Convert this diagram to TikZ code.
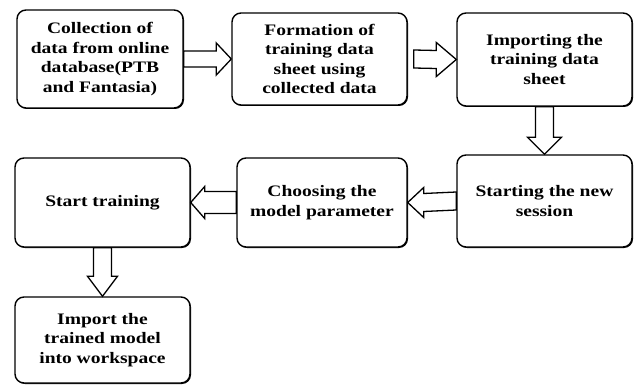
\documentclass[tikz,border=0pt]{standalone}
\usepackage{fontspec}
\setmainfont{Liberation Serif}[FakeStretch=1.22]
\usetikzlibrary{calc,shadows}
\begin{document}
\begin{tikzpicture}[x=1pt,y=1pt,
  box/.style={draw=black, line width=1.4pt, rounded corners=9pt, fill=white,
    align=center, font=\bfseries\fontsize{16}{19.5}\selectfont, inner sep=2pt,
    drop shadow={shadow xshift=1pt, shadow yshift=-1pt, opacity=1, fill=black}},
  blk/.style={draw=black, line width=1.3pt, fill=white, line join=miter}]
\useasboundingbox (0,0) rectangle (635,-385);
\node[box, minimum width=166pt, minimum height=98pt] (b1) at (100,-59)
  {Collection of\\data from online\\database(PTB\\and Fantasia)};
\node[box, minimum width=175pt, minimum height=92pt] (b2) at (319.5,-59)
  {Formation of\\training data\\sheet using\\collected data};
\node[box, minimum width=175pt, minimum height=93pt] (b3) at (544.5,-59.5)
  {Importing the\\training data\\sheet};
\node[box, minimum width=175pt, minimum height=92pt] (b4) at (544.5,-201)
  {Starting the new\\session};
\node[box, minimum width=170pt, minimum height=89pt] (b5) at (322,-202.5)
  {Choosing the\\model parameter};
\node[box, minimum width=175pt, minimum height=89pt] (b6) at (102.5,-202.5)
  {Start training};
\node[box, minimum width=175pt, minimum height=86pt] (b7) at (102.5,-340)
  {Import the\\trained model\\into workspace};
% right arrows
\draw[blk] ($(b1.east)+(0,8)$) -- ($(b2.west)+(-15,8)$) -- ($(b2.west)+(-15,16)$) -- (b2.west)
  -- ($(b2.west)+(-15,-16)$) -- ($(b2.west)+(-15,-8)$) -- ($(b1.east)+(0,-8)$) -- cycle;
\draw[blk] ($(b2.east)+(6,9)$) -- ($(b3.west)+(-20,9)$) -- ($(b3.west)+(-20,17)$) -- (b3.west)
  -- ($(b3.west)+(-20,-17)$) -- ($(b3.west)+(-20,-9)$) -- ($(b2.east)+(6,-9)$) -- cycle;
% down arrow b3 -> b4
\draw[blk] ($(b3.south)+(-9,0)$) -- ($(b4.north)+(-9,17)$) -- ($(b4.north)+(-17,17)$) -- (b4.north)
  -- ($(b4.north)+(17,17)$) -- ($(b4.north)+(9,17)$) -- ($(b3.south)+(9,0)$) -- cycle;
% left arrows
\draw[blk] ($(b4.west)+(0,9)$) -- ($(b5.east)+(16,9)$) -- ($(b5.east)+(16,15)$) -- (b5.east)
  -- ($(b5.east)+(16,-15)$) -- ($(b5.east)+(16,-9)$) -- ($(b4.west)+(0,-9)$) -- cycle;
\draw[blk] ($(b5.west)+(0,11)$) -- ($(b6.east)+(14,11)$) -- ($(b6.east)+(14,16)$) -- (b6.east)
  -- ($(b6.east)+(14,-16)$) -- ($(b6.east)+(14,-11)$) -- ($(b5.west)+(0,-11)$) -- cycle;
% down arrow b6 -> b7
\draw[blk] ($(b6.south)+(-9,0)$) -- ($(b7.north)+(-9,20)$) -- ($(b7.north)+(-15,20)$) -- (b7.north)
  -- ($(b7.north)+(15,20)$) -- ($(b7.north)+(9,20)$) -- ($(b6.south)+(9,0)$) -- cycle;
\end{tikzpicture}
\end{document}
